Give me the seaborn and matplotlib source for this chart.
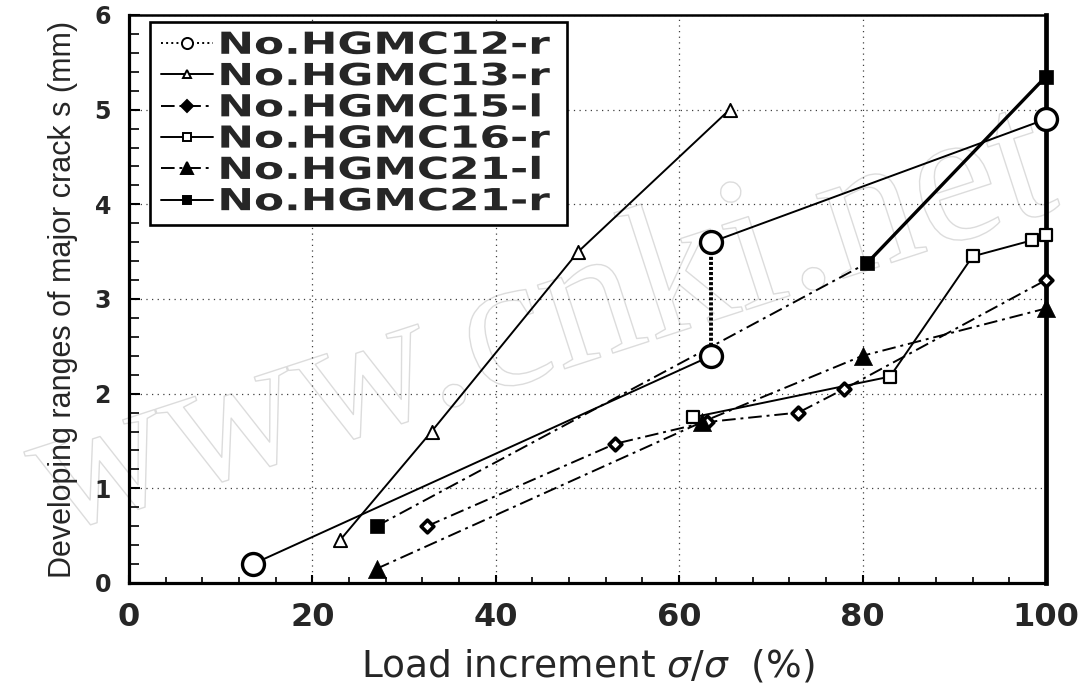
import numpy as np
import pandas as pd
import matplotlib
matplotlib.use("Agg")
import matplotlib.pyplot as plt
import seaborn as sns
from matplotlib import patheffects, font_manager
from matplotlib.lines import Line2D
from matplotlib.ticker import MultipleLocator
from matplotlib.transforms import Affine2D

# values (load increment %, crack range mm)
x_12r = [13.5, 63.5, 63.5, 100.0]
y_12r = [0.20, 2.40, 3.60, 4.90]
x_13r = [23.0, 33.0, 49.0, 65.5]
y_13r = [0.45, 1.60, 3.50, 5.00]
x_15l = [32.5, 53.0, 63.0, 73.0, 78.0, 100.0]
y_15l = [0.60, 1.47, 1.70, 1.80, 2.05, 3.20]
x_16r = [61.5, 83.0, 92.0, 98.5, 100.0]
y_16r = [1.75, 2.18, 3.45, 3.62, 3.68]
x_21l = [27.0, 62.5, 80.0, 100.0]
y_21l = [0.15, 1.70, 2.40, 2.90]
x_21r = [27.0, 80.5, 100.0]
y_21r = [0.60, 3.38, 5.35]

labels = ["No.HGMC12-r", "No.HGMC13-r", "No.HGMC15-l",
          "No.HGMC16-r", "No.HGMC21-l", "No.HGMC21-r"]
x_ticks = [0, 20, 40, 60, 80, 100]
y_ticks = [0, 1, 2, 3, 4, 5, 6]

DASHDOT = (0, (7, 2.5, 1.5, 2.5))
DOTS = (0, (0.8, 0.5))

# per series: data, segment styles (start, end, linestyle, width), marker look, legend look
series = [
    (x_12r, y_12r, [(0, 1, "-", 1.4), (1, 2, DOTS, 2.8), (2, 3, "-", 1.4)],
     dict(marker="o", s=250, color="white", linewidth=2.4), dict(ls=":", marker="o", mfc="white", ms=8)),
    (x_13r, y_13r, [(0, 3, "-", 1.4)],
     dict(marker="^", s=90, color="white", linewidth=1.4), dict(ls="-", marker="^", mfc="white", ms=6)),
    (x_15l, y_15l, [(0, 5, DASHDOT, 1.4)],
     dict(marker="D", s=42, color="white", linewidth=2.6), dict(ls=DASHDOT, marker="D", mfc="black", ms=6)),
    (x_16r, y_16r, [(0, 4, "-", 1.4)],
     dict(marker="s", s=80, color="white", linewidth=1.6), dict(ls="-", marker="s", mfc="white", ms=6)),
    (x_21l, y_21l, [(0, 3, DASHDOT, 1.4)],
     dict(marker="^", s=170, color="black", linewidth=0.5), dict(ls=DASHDOT, marker="^", mfc="black", ms=8)),
    (x_21r, y_21r, [(0, 1, DASHDOT, 1.4), (1, 2, "-", 2.4)],
     dict(marker="s", s=90, color="black", linewidth=0.5), dict(ls="-", marker="s", mfc="black", ms=6)),
]


class Stretch(patheffects.AbstractPathEffect):
    """rescale glyphs around the text anchor (the legend font is very wide)"""

    def __init__(self, sx, sy, lift):
        super().__init__()
        self.sx, self.sy, self.lift = sx, sy, lift

    def draw_path(self, renderer, gc, tpath, affine, rgbFace=None):
        x0, y0 = affine.transform((0, 0))
        yc = y0 + renderer.points_to_pixels(self.lift)
        t = affine + Affine2D().translate(-x0, -yc).scale(self.sx, self.sy).translate(x0, yc)
        renderer.draw_path(gc, tpath, t, rgbFace)


sns.set_style("ticks")
plt.rcParams["font.family"] = ["DejaVu Sans"]
plt.rcParams["mathtext.fontset"] = "dejavusans"

installed = {f.name for f in font_manager.fontManager.ttflist}
label_font = "Liberation Sans Narrow" if "Liberation Sans Narrow" in installed else "Liberation Sans"

fig = plt.figure(figsize=(10.91, 6.87), dpi=100)
ax = fig.add_axes([0.1182, 0.1514, 0.8405, 0.8268])

# faint watermark behind everything
ax.text(0.45, 0.45, "www.cnki.net", transform=ax.transAxes, rotation=18,
        fontsize=138, family="Liberation Serif", color=(1, 1, 1, 0),
        ha="center", va="center", zorder=0,
        path_effects=[patheffects.Stroke(linewidth=1.0, foreground="#dcdcdc")])

for xs, ys, segs, mk, _ in series:
    df = pd.DataFrame({"x": xs, "y": ys})
    for a, b, ls, lw in segs:
        part = df.iloc[a:b + 1]
        sns.lineplot(data=part, x="x", y="y", ax=ax, sort=False, estimator=None,
                     color="black", linestyle=ls, linewidth=lw, zorder=3)
    sns.scatterplot(data=df, x="x", y="y", ax=ax, edgecolor="black", zorder=4,
                    clip_on=False, **mk)

ax.set_xlim(0, 100)
ax.set_ylim(0, 6)
ax.set_xticks(x_ticks)
ax.set_yticks(y_ticks)
ax.xaxis.set_minor_locator(MultipleLocator(4))
ax.yaxis.set_minor_locator(MultipleLocator(0.2))
ax.tick_params(axis="both", which="both", direction="in", color="black")
ax.tick_params(axis="x", which="major", length=6, width=1.5, pad=14, labelsize=23)
ax.tick_params(axis="x", which="minor", length=4, width=1.2)
ax.tick_params(axis="y", which="major", length=8, width=1.5, pad=13, labelsize=17)
ax.tick_params(axis="y", which="minor", length=7, width=1.2)
for t in ax.get_xticklabels() + ax.get_yticklabels():
    t.set_fontweight("bold")

ax.grid(True, which="major", color="0.25", linestyle=(0, (1, 3.5)), linewidth=0.9)
ax.set_axisbelow(True)

for side, lw in [("left", 2.3), ("bottom", 2.3), ("top", 1.8), ("right", 3.4)]:
    ax.spines[side].set_visible(True)
    ax.spines[side].set_linewidth(lw)
    ax.spines[side].set_color("black")

ax.set_xlabel("Load increment $\\sigma/\\sigma$  (%)", fontsize=27, labelpad=10)
ax.set_ylabel("Developing ranges of major crack s (mm)", fontsize=22,
              family=label_font, labelpad=12)

handles = [Line2D([0], [0], color="black", linewidth=1.4, markeredgecolor="black",
                  markeredgewidth=1.4, **lk) for *_, lk in series]
LEG_FS = 19
leg = ax.legend(handles, labels, loc="upper left", mode="expand",
                bbox_to_anchor=(0.023, 0.5, 0.455, 0.488),
                prop={"family": "DejaVu Sans", "weight": "bold", "size": LEG_FS},
                labelspacing=0.2, handlelength=2.0, handletextpad=0.15,
                borderpad=0.4, borderaxespad=0, frameon=True, fancybox=False,
                framealpha=1, edgecolor="black")
leg.get_frame().set_linewidth(1.9)
for t in leg.get_texts():
    t.set_path_effects([Stretch(1.66, 1.15, 0.365 * LEG_FS)])

fig.savefig("out.png", dpi=100)
